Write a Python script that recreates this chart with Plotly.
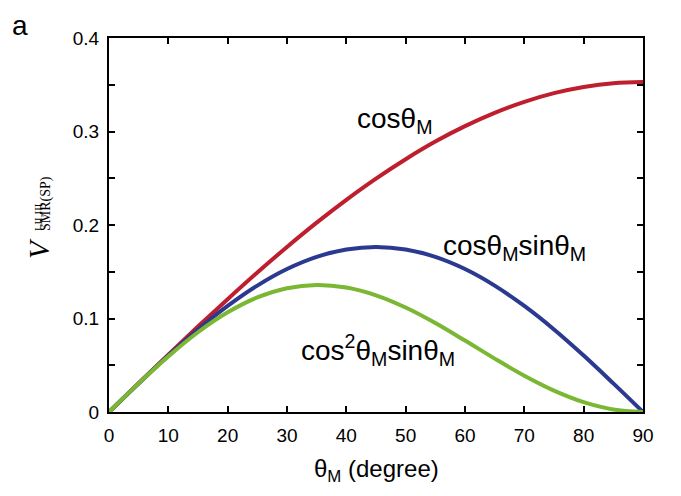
import plotly.graph_objects as go

theta = [0, 5, 10, 15, 20, 25, 30, 35, 40, 45, 50, 55, 60, 65, 70, 75, 80, 85, 90]
v_cos = [0, 0.0308, 0.0613, 0.0914, 0.1207, 0.1492, 0.1765, 0.2025, 0.2269, 0.2496,
         0.2704, 0.2892, 0.3057, 0.3199, 0.3317, 0.3410, 0.3476, 0.3517, 0.353]
v_cos_sin = [0, 0.0306, 0.0604, 0.0883, 0.1134, 0.1352, 0.1529, 0.1659, 0.1738, 0.1765,
             0.1738, 0.1659, 0.1529, 0.1352, 0.1134, 0.0883, 0.0604, 0.0306, 0]
v_cos2_sin = [0, 0.0306, 0.0595, 0.0853, 0.1066, 0.1225, 0.1324, 0.1359, 0.1331, 0.1248,
              0.1117, 0.0951, 0.0764, 0.0571, 0.0388, 0.0229, 0.0105, 0.0027, 0]

x_ticks = [0, 10, 20, 30, 40, 50, 60, 70, 80, 90]
y_ticks = [0, 0.05, 0.1, 0.15, 0.2, 0.25, 0.3, 0.35, 0.4]
y_ticktext = ["0", "", "0.1", "", "0.2", "", "0.3", "", "0.4"]

RED = "#BE1E2D"
BLUE = "#2B3990"
GREEN = "#7AB733"

fig = go.Figure()
for ys, col in [(v_cos, RED), (v_cos_sin, BLUE), (v_cos2_sin, GREEN)]:
    fig.add_trace(go.Scatter(x=theta, y=ys, mode="lines",
                             line=dict(color=col, width=4, shape="spline", smoothing=1),
                             showlegend=False, cliponaxis=False))

OFF = 8  # default page body margin
W, H = 681 - 2 * OFF, 496 - 2 * OFF
L, T = 109 - OFF, 38 - OFF
pw, ph = 534, 374
R, B = W - L - pw, H - T - ph


def px(x):
    return (x - OFF - L) / pw


def py(y):
    return (T + ph - (y - OFF)) / ph


sans = "Arial, Liberation Sans, sans-serif"
serif = "Times New Roman, Liberation Serif, serif"

axis_common = dict(showline=True, linecolor="black", linewidth=2, mirror="ticks",
                   ticks="inside", ticklen=6, tickwidth=1.5, tickcolor="black",
                   showgrid=False, zeroline=False,
                   tickfont=dict(family=sans, size=19, color="black"))

fig.update_xaxes(range=[0, 90], tickvals=x_ticks, ticklabelstandoff=5, **axis_common)
fig.update_yaxes(range=[0, 0.4], tickvals=y_ticks, ticktext=y_ticktext, ticklabelstandoff=4,
                 **axis_common)

ann = []


def add(text, x, y, size, font=sans, angle=0, xanchor="center", yanchor="middle", color="black"):
    ann.append(dict(text=text, x=px(x), y=py(y), xref="paper", yref="paper",
                    showarrow=False, textangle=angle, xanchor=xanchor, yanchor=yanchor,
                    font=dict(family=font, size=size, color=color)))


add("a", 10, 8, 28, xanchor="left", yanchor="top")
add("cosθ<sub>M</sub>", 355, 120, 28, xanchor="left")
add("cosθ<sub>M</sub>sinθ<sub>M</sub>", 441, 247, 28, xanchor="left")
add("cos<sup>2</sup>θ<sub>M</sub>sinθ<sub>M</sub>", 299, 350, 28, xanchor="left")
add("θ<sub>M</sub> (degree)", 376, 470, 24)
# y-axis title: V with stacked super/subscript
add("<i>V</i>", 39, 249, 29, font=serif, angle=-90)
add("I,II,III", 38, 217, 11, font=serif, angle=-90)
add("SMR(SP)", 46, 204, 14, font=serif, angle=-90)

fig.update_layout(width=W, height=H, margin=dict(l=L, r=R, t=T, b=B, autoexpand=False),
                  plot_bgcolor="white", paper_bgcolor="white", annotations=ann)

fig.write_html("out.html")
